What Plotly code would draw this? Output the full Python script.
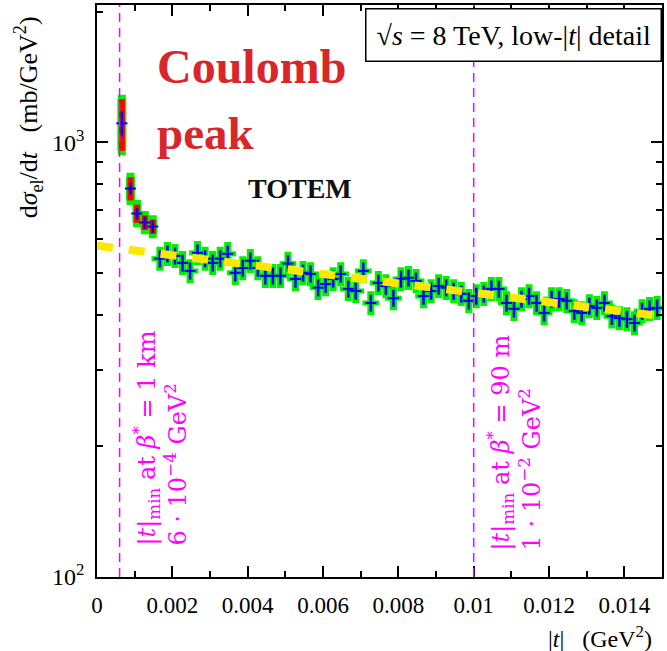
import plotly.graph_objects as go

# ---------------- data ----------------
# Coulomb-peak region points
coul_t = [0.00066, 0.00089, 0.00106, 0.00127, 0.00148]
coul_y = [1106, 783, 686, 654, 640]
coul_stat = [73, 25, 21, 21, 21]
coul_sys = [150, 48, 33, 25, 24]

# main low-|t| points
main_t = [0.00167, 0.00187, 0.00207, 0.00227, 0.00247, 0.00267, 0.00287, 0.00307, 0.00327, 0.00347,
          0.00367, 0.00387, 0.00407, 0.00427, 0.00447, 0.00467, 0.00487, 0.00507, 0.00527, 0.00547,
          0.00567, 0.00587, 0.00607, 0.00627, 0.00647, 0.00667, 0.00687, 0.00707, 0.00727, 0.00747,
          0.00767, 0.00787, 0.00807, 0.00827, 0.00847, 0.00867, 0.00887, 0.00907, 0.00927, 0.00947,
          0.00967, 0.00987, 0.01007, 0.01027, 0.01047, 0.01067, 0.01087, 0.01107, 0.01127, 0.01147,
          0.01167, 0.01187, 0.01207, 0.01227, 0.01247, 0.01267, 0.01287, 0.01307, 0.01327, 0.01347,
          0.01367, 0.01387, 0.01407, 0.01427, 0.01447, 0.01467, 0.01487]
main_y = [540, 554, 548, 528, 506, 557, 540, 528, 540, 554,
          501, 514, 534, 514, 493, 493, 493, 526, 485, 501,
          498, 463, 472, 485, 498, 460, 455, 506, 427, 475,
          467, 438, 485, 488, 480, 443, 455, 467, 463, 455,
          448, 432, 443, 448, 460, 460, 427, 414, 436, 443,
          427, 405, 436, 436, 432, 409, 405, 420, 416, 427,
          398, 394, 392, 384, 409, 414, 416]
main_err_percent = 4.5

# exponential fit (straight on log scale)
fit_t = [0.0, 0.015]
fit_y = [578, 398]

# |t|_min markers
tmin_values = [0.0006, 0.01]

x_tickvals = [0, 0.002, 0.004, 0.006, 0.008, 0.01, 0.012, 0.014]
x_ticktext = ["0", "0.002", "0.004", "0.006", "0.008", "0.01", "0.012", "0.014"]
y_tickvals = [100, 1000]
y_ticktext = ["10<sup>2</sup>", "10<sup>3</sup>"]
y_minor = [200, 300, 400, 500, 600, 700, 800, 900, 2000]

GREEN = "#00f000"
BLUE = "#0000ff"
RED = "#ff0000"
YELLOW = "#ffe800"
MAGENTA = "#ff00ff"
SERIF = "Liberation Serif"
WIDE_SERIF = "DejaVu Serif"

fig = go.Figure()

# green outlines - main points
fig.add_trace(go.Scatter(
    x=main_t, y=main_y, mode="markers",
    marker=dict(symbol="line-ew", size=12, line=dict(width=5, color=GREEN), color=GREEN),
    error_y=dict(type="percent", value=main_err_percent, thickness=7, width=3.5, color=GREEN),
    showlegend=False, hoverinfo="skip"))
# green outlines - Coulomb points
fig.add_trace(go.Scatter(
    x=coul_t, y=coul_y, mode="markers",
    marker=dict(symbol="line-ew", size=1, line=dict(width=0, color=GREEN), color=GREEN),
    error_y=dict(type="data", array=coul_sys, thickness=9, width=4, color=GREEN),
    showlegend=False, hoverinfo="skip"))
# red systematic boxes - Coulomb points
fig.add_trace(go.Scatter(
    x=coul_t, y=coul_y, mode="markers",
    marker=dict(symbol="line-ew", size=1, line=dict(width=0, color=RED), color=RED),
    error_y=dict(type="data", array=coul_sys, thickness=6, width=0, color=RED),
    showlegend=False, hoverinfo="skip"))
# blue crosses
fig.add_trace(go.Scatter(
    x=main_t, y=main_y, mode="markers",
    marker=dict(symbol="line-ew", size=8, line=dict(width=2, color=BLUE), color=BLUE),
    error_y=dict(type="percent", value=main_err_percent, thickness=2.5, width=0, color=BLUE),
    showlegend=False, hoverinfo="skip"))
fig.add_trace(go.Scatter(
    x=coul_t, y=coul_y, mode="markers",
    marker=dict(symbol="line-ew", size=8, line=dict(width=2, color=BLUE), color=BLUE),
    error_y=dict(type="data", array=coul_stat, thickness=2.5, width=0, color=BLUE),
    showlegend=False, hoverinfo="skip"))
# fit
fig.add_trace(go.Scatter(
    x=fit_t, y=fit_y, mode="lines",
    line=dict(color=YELLOW, width=8, dash="16px,16px"),
    showlegend=False, hoverinfo="skip"))

for tv in tmin_values:
    fig.add_shape(type="line", x0=tv, x1=tv, xref="x", yref="paper", y0=0, y1=1,
                  line=dict(color=MAGENTA, width=1.5, dash="9px,6px"))

ann = []
ann.append(dict(text="Coulomb", x=0.102, y=0.893, xref="paper", yref="paper",
                xanchor="left", yanchor="middle", showarrow=False,
                font=dict(family=SERIF, size=48, color="#d9262b", weight="bold")))
ann.append(dict(text="peak", x=0.102, y=0.776, xref="paper", yref="paper",
                xanchor="left", yanchor="middle", showarrow=False,
                font=dict(family=SERIF, size=47, color="#d9262b", weight="bold")))
ann.append(dict(text="TOTEM", x=0.36, y=0.680, xref="paper", yref="paper",
                xanchor="center", yanchor="middle", showarrow=False,
                font=dict(family=SERIF, size=28, color="#111111", weight="bold")))
ann.append(dict(text="√<i>s</i> = 8 TeV, low-|<i>t</i>| detail", x=1.0, y=0.9948,
                xref="paper", yref="paper", xanchor="right", yanchor="top", showarrow=False,
                bgcolor="white", bordercolor="black", borderwidth=1.5, borderpad=10,
                font=dict(family=SERIF, size=28, color="black")))
ann.append(dict(text="d<i>σ</i><sub>el</sub>/d<i>t</i>   (mb/GeV<sup>2</sup>)", x=-0.1217, y=0.804,
                xref="paper", yref="paper", xanchor="center", yanchor="middle", showarrow=False,
                textangle=-90, font=dict(family=SERIF, size=26, color="black")))
ann.append(dict(text="|<i>t</i>|   (GeV<sup>2</sup>)", x=0.89, y=-0.105,
                xref="paper", yref="paper", xanchor="center", yanchor="middle", showarrow=False,
                font=dict(family=SERIF, size=24, color="black")))
ann.append(dict(text="|<i>t</i>|<sub>min</sub> at <i>β</i><sup>*</sup> = 1 km<br>6 · 10<sup>−4</sup> GeV<sup>2</sup>",
                x=0.113, y=0.052, xref="paper", yref="paper", xanchor="center", yanchor="bottom",
                align="left", showarrow=False, textangle=-90,
                font=dict(family=WIDE_SERIF, size=24, color=MAGENTA)))
ann.append(dict(text="|<i>t</i>|<sub>min</sub> at <i>β</i><sup>*</sup> = 90 m<br>1 · 10<sup>−2</sup> GeV<sup>2</sup>",
                x=0.739, y=0.042, xref="paper", yref="paper", xanchor="center", yanchor="bottom",
                align="left", showarrow=False, textangle=-90,
                font=dict(family=WIDE_SERIF, size=24, color=MAGENTA)))

fig.update_layout(
    width=667, height=651,
    margin=dict(l=97, r=3, t=5, b=74),
    paper_bgcolor="white", plot_bgcolor="white",
    annotations=ann,
    xaxis=dict(range=[0, 0.015], showgrid=False, zeroline=False,
               showline=True, linecolor="black", linewidth=1.5, mirror="ticks",
               ticks="inside", ticklen=11, tickwidth=1.5, tickcolor="black",
               tickvals=x_tickvals, ticktext=x_ticktext, ticklabelstandoff=7,
               tickfont=dict(family=SERIF, size=23, color="black"),
               minor=dict(dtick=0.001, tick0=0, ticks="inside", ticklen=6, tickwidth=1.5, tickcolor="black")),
    yaxis=dict(type="log", range=[2, 3.316], showgrid=False, zeroline=False,
               showline=True, linecolor="black", linewidth=1.5, mirror="ticks",
               ticks="inside", ticklen=11, tickwidth=1.5, tickcolor="black",
               tickvals=y_tickvals, ticktext=y_ticktext, ticklabelstandoff=6,
               tickfont=dict(family=SERIF, size=24, color="black"),
               minor=dict(tickvals=y_minor, ticks="inside", ticklen=6, tickwidth=1.5, tickcolor="black")),
)

fig.write_html("out.html")
